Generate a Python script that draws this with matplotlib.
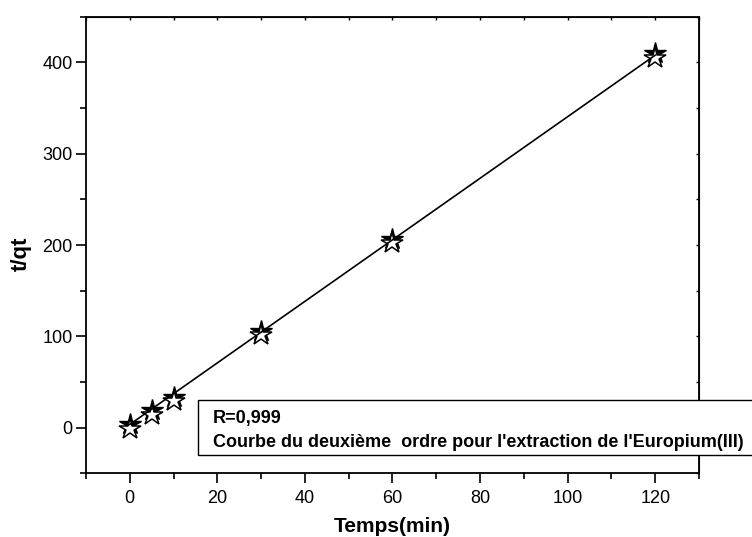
import matplotlib
matplotlib.use("Agg")
import matplotlib.pyplot as plt
from matplotlib.patches import Rectangle
from matplotlib.ticker import MultipleLocator

plt.rcParams['font.family'] = ['Liberation Sans', 'DejaVu Sans']

# Kinetic data: time (min) and t/qt
temps = [0, 5, 10, 30, 60, 120]
t_qt_exp = [4, 19, 34, 106, 207, 410]
t_qt_calc = [-1, 14, 29, 101, 202, 405]

# Pseudo-second-order linear fit: t/qt = intercept + slope * t
fit_slope = 3.37
fit_intercept = 3.5
fit_range = [0, 120]

W, H = 752, 537
fig = plt.figure(figsize=(W / 100, H / 100), dpi=100)
ax = fig.add_axes([86 / W, 1 - 473.3 / H, (699 - 86) / W, (473.3 - 16.7) / H])

ax.plot(temps, t_qt_exp, linestyle='none', marker='*', markersize=16,
        markerfacecolor='black', markeredgecolor='black', zorder=3)
ax.plot(temps, t_qt_calc, linestyle='none', marker='*', markersize=16,
        markerfacecolor='white', markeredgecolor='black', markeredgewidth=1.1,
        zorder=4)
fit_y = [fit_intercept + fit_slope * t for t in fit_range]
ax.plot(fit_range, fit_y, color='black', linewidth=1.2, zorder=5)

ax.set_xlim(-10, 130)
ax.set_ylim(-50, 450)
ax.xaxis.set_major_locator(MultipleLocator(20))
ax.xaxis.set_minor_locator(MultipleLocator(10))
ax.yaxis.set_major_locator(MultipleLocator(100))
ax.yaxis.set_minor_locator(MultipleLocator(50))

for s in ax.spines.values():
    s.set_linewidth(1.3)

ax.tick_params(which='major', direction='out', length=7, width=1.2,
               labelsize=13)
ax.tick_params(axis='x', which='major', pad=5)
ax.tick_params(axis='y', which='major', pad=2.5)
ax.tick_params(which='minor', direction='out', length=4, width=1.2)

# small inward ticks on the opposite axes
top = ax.secondary_xaxis('top')
top.xaxis.set_major_locator(MultipleLocator(10))
top.tick_params(direction='in', length=2, width=1.0, labeltop=False)
right = ax.secondary_yaxis('right')
right.yaxis.set_major_locator(MultipleLocator(50))
right.tick_params(direction='in', length=2, width=1.0, labelright=False)

ax.set_xlabel('Temps(min)', fontsize=15, fontweight='bold')
ax.xaxis.set_label_coords(0.5, (473.3 - 527) / (473.3 - 16.7))
ax.set_ylabel('t/qt', fontsize=16, fontweight='bold')
ax.yaxis.set_label_coords((21 - 86) / (699 - 86), (473.3 - 254) / (473.3 - 16.7))
ax.xaxis.label.set_va('center')
ax.yaxis.label.set_va('center')

# annotation box, running past the right edge of the figure
box = Rectangle((198 / W, 1 - 455 / H), (770 - 198) / W, 55 / H,
                transform=fig.transFigure, facecolor='white',
                edgecolor='black', linewidth=1.0, zorder=10, clip_on=False)
fig.patches.append(box)
fig.text(212.7 / W, 1 - 423.3 / H, 'R=0,999', fontsize=13, fontweight='bold',
         va='baseline', ha='left', zorder=11)
fig.text(212.7 / W, 1 - 447.3 / H,
         "Courbe du deuxième  ordre pour l'extraction de l'Europium(III)",
         fontsize=13, fontweight='bold', va='baseline', ha='left', zorder=11)

fig.savefig('out.png', dpi=100)
